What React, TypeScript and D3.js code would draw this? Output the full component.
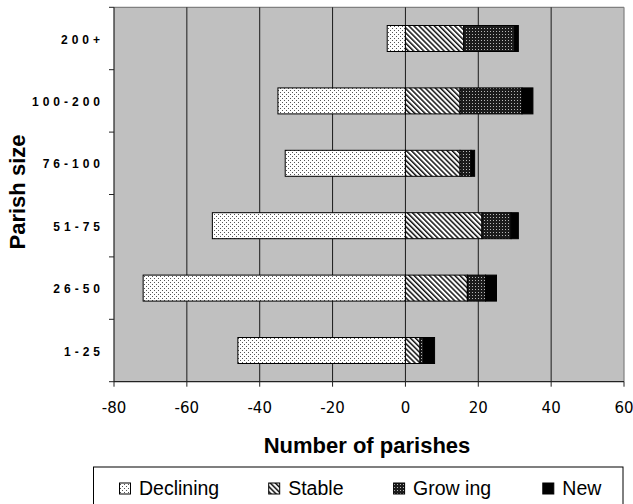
import React from "react";
import * as d3 from "d3";

// Parish size groups, top to bottom
const categories = ["200+", "100-200", "76-100", "51-75", "26-50", "1-25"];
// Number of parishes in each trend group (declining plotted as negative)
const declining = [-5, -35, -33, -53, -72, -46];
const stable = [16, 15, 15, 21, 17, 4];
const growing = [14, 17, 3, 8, 5, 1];
const newParishes = [1, 3, 1, 2, 3, 3];

const xTicks = [-80, -60, -40, -20, 0, 20, 40, 60];
const legendLabels = ["Declining", "Stable", "Grow ing", "New"];

const W = 633;
const H = 504;
const plot = { left: 114, right: 624, top: 7.3, bottom: 381.7 };

const fills = ["url(#pDecl)", "url(#pStable)", "url(#pGrow)", "#000"];

export default function App() {
  const x = d3.scaleLinear().domain([-80, 60]).range([plot.left, plot.right]);
  const y = d3
    .scaleBand<string>()
    .domain(categories)
    .range([plot.top, plot.bottom])
    .padding(0);
  const barH = 26;

  const rows = categories.map((c, i) => ({
    cat: c,
    stable: stable[i],
    growing: growing[i],
    newP: newParishes[i],
  }));
  const stacked = d3.stack<any>().keys(["stable", "growing", "newP"])(rows);

  const bandEdges = [...categories.map((c) => y(c) as number), plot.bottom];

  const legendX = [119.5, 268.7, 393.6, 542.8];

  return (
    <svg
      width={W}
      height={H}
      style={{ position: "absolute", left: 0, top: 0, background: "#fff" }}
      fontFamily="'Liberation Sans', Arial, sans-serif"
    >
      <defs>
        <pattern id="pDecl" width={4} height={4} patternUnits="userSpaceOnUse">
          <rect width={4} height={4} fill="#fff" />
          <rect x={0} y={0} width={1} height={1} fill="#555" />
          <rect x={2} y={2} width={1} height={1} fill="#555" />
        </pattern>
        <pattern
          id="pStable"
          width={3.6}
          height={3.6}
          patternUnits="userSpaceOnUse"
          patternTransform="rotate(-45)"
        >
          <rect width={3.6} height={3.6} fill="#fff" />
          <rect x={0} y={0} width={1.5} height={3.6} fill="#111" />
        </pattern>
        <pattern id="pGrow" width={3} height={3} patternUnits="userSpaceOnUse">
          <rect width={3} height={3} fill="#1c1c1c" />
          <rect x={1} y={1} width={1} height={1} fill="#b8b8b8" />
        </pattern>
      </defs>

      {/* plot background */}
      <rect
        x={plot.left}
        y={plot.top}
        width={plot.right - plot.left}
        height={plot.bottom - plot.top}
        fill="#c0c0c0"
      />
      {/* frame: top and right */}
      <line x1={plot.left} x2={plot.right} y1={plot.top} y2={plot.top} stroke="#808080" strokeWidth={1.2} />
      <line x1={plot.right} x2={plot.right} y1={plot.top} y2={plot.bottom} stroke="#808080" strokeWidth={1.2} />

      {/* vertical gridlines */}
      {xTicks.slice(1, -1).map((t) => (
        <line key={t} x1={x(t)} x2={x(t)} y1={plot.top} y2={plot.bottom} stroke="#1a1a1a" strokeWidth={1} />
      ))}

      {/* declining bars */}
      {categories.map((c, i) => (
        <rect
          key={"d" + c}
          x={x(declining[i])}
          y={(y(c) as number) + (y.bandwidth() - barH) / 2}
          width={x(0) - x(declining[i])}
          height={barH}
          fill={fills[0]}
          stroke="#000"
          strokeWidth={1}
        />
      ))}

      {/* positive stacked bars */}
      {stacked.map((s, si) =>
        s.map((d) => (
          <rect
            key={s.key + d.data.cat}
            x={x(d[0])}
            y={(y(d.data.cat) as number) + (y.bandwidth() - barH) / 2}
            width={x(d[1]) - x(d[0])}
            height={barH}
            fill={fills[si + 1]}
            stroke="#000"
            strokeWidth={1}
          />
        ))
      )}

      {/* axes */}
      <line x1={plot.left} x2={plot.left} y1={plot.top} y2={plot.bottom} stroke="#222" strokeWidth={1.2} />
      <line x1={plot.left} x2={plot.right} y1={plot.bottom} y2={plot.bottom} stroke="#222" strokeWidth={1.2} />
      {bandEdges.map((e, i) => (
        <line key={"yt" + i} x1={plot.left - 5} x2={plot.left} y1={e} y2={e} stroke="#222" strokeWidth={1} />
      ))}
      {xTicks.map((t) => (
        <g key={"xt" + t}>
          <line x1={x(t)} x2={x(t)} y1={plot.bottom} y2={plot.bottom + 5} stroke="#222" strokeWidth={1} />
          <text
            x={x(t)}
            y={413}
            textAnchor="middle"
            fontSize={15}
            fontFamily="'DejaVu Sans', sans-serif"
            fill="#000"
          >
            {t}
          </text>
        </g>
      ))}

      {/* category labels */}
      {categories.map((c) => (
        <text
          key={"cl" + c}
          x={104}
          y={(y(c) as number) + y.bandwidth() / 2 + 5}
          textAnchor="end"
          fontSize={12}
          fontWeight="bold"
          letterSpacing={4}
          fill="#000"
        >
          {c}
        </text>
      ))}

      {/* axis titles */}
      <text x={367} y={453} textAnchor="middle" fontSize={22} fontWeight="bold" fill="#000">
        Number of parishes
      </text>
      <text
        transform={`translate(25,192) rotate(-90)`}
        textAnchor="middle"
        fontSize={22}
        fontWeight="bold"
        fill="#000"
      >
        Parish size
      </text>

      {/* legend */}
      <rect x={93.5} y={467} width={529.5} height={50} fill="#fff" stroke="#000" strokeWidth={1} />
      {legendLabels.map((l, i) => (
        <g key={"lg" + l}>
          <rect x={legendX[i]} y={483} width={11} height={11} fill={fills[i]} stroke="#000" strokeWidth={1} />
          <text x={legendX[i] + 19.5} y={494.5} fontSize={19.5} fill="#000">
            {l}
          </text>
        </g>
      ))}
    </svg>
  );
}
